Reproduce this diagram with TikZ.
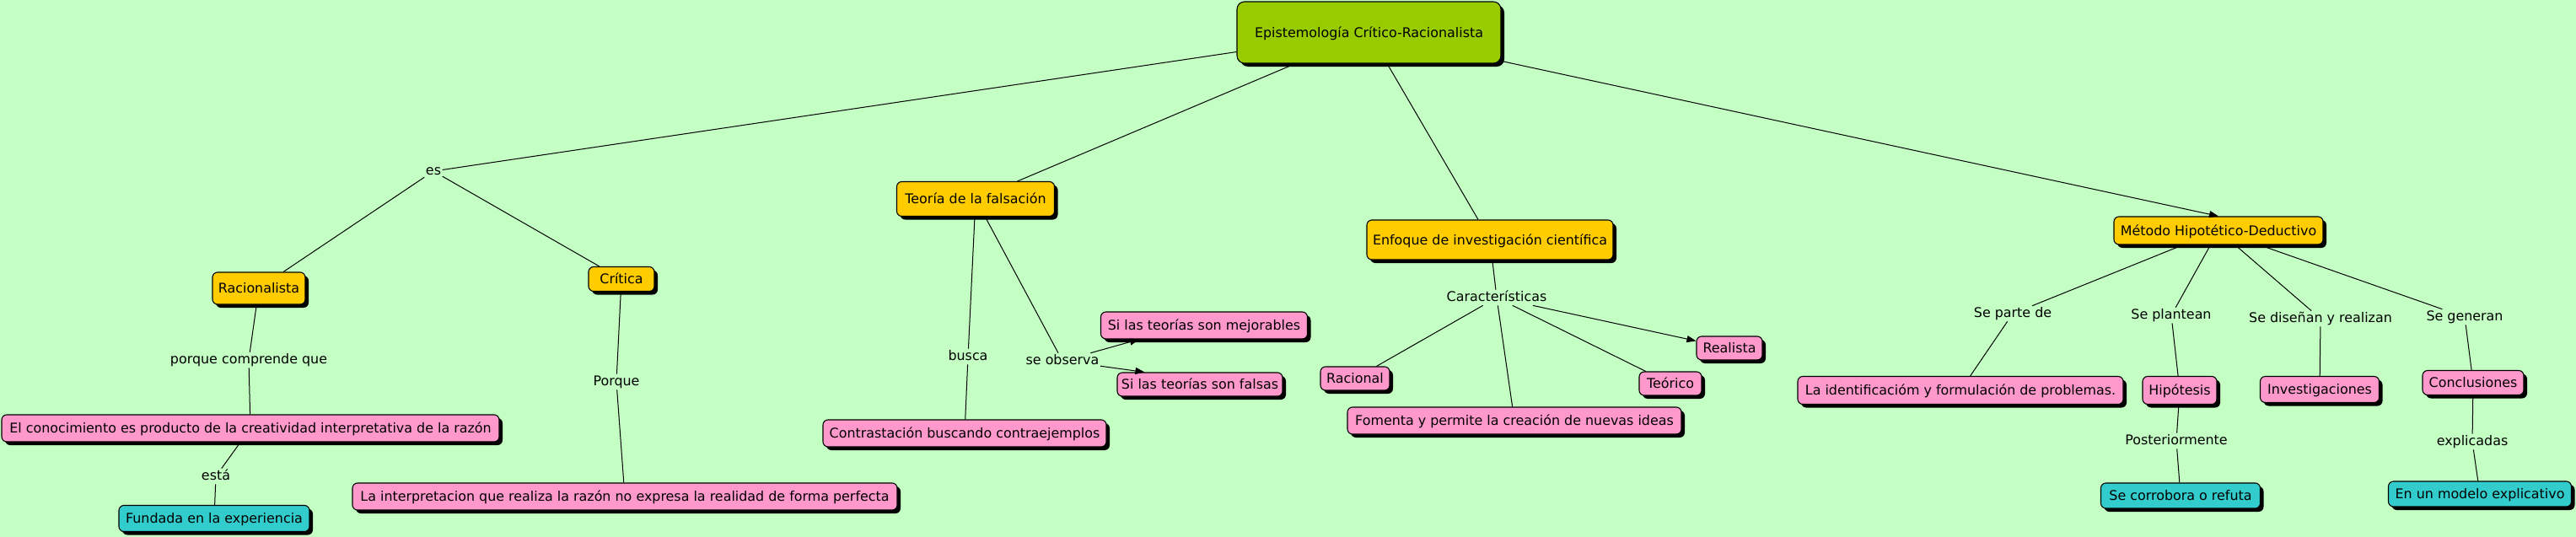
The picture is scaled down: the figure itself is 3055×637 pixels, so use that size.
\documentclass[tikz,border=0pt]{standalone}
\usepackage{fontspec}
\setmainfont{DejaVu Sans}
\usetikzlibrary{shadows,arrows.meta}
\definecolor{bg}{RGB}{196,255,196}
\definecolor{croot}{HTML}{99CC00}
\definecolor{cyel}{HTML}{FFCC00}
\definecolor{cpink}{HTML}{FF99CC}
\definecolor{cteal}{HTML}{33CCCC}
\tikzset{
  concept/.style={draw=black, line width=1.1pt, rounded corners=6pt, inner sep=0pt,
    text height=11.6pt, text depth=0pt, text=black,
    font=\fontsize{15.9}{19}\selectfont,
    drop shadow={shadow xshift=4pt, shadow yshift=-4pt, fill=black, opacity=1}},
  rootc/.style={concept, fill=croot, rounded corners=9pt},
  yel/.style={concept, fill=cyel},
  pink/.style={concept, fill=cpink},
  teal/.style={concept, fill=cteal},
  sz/.style 2 args={minimum width=#1pt, minimum height=#2pt},
  lbl/.style={inner sep=1.5pt, text height=11.6pt, text depth=3.7pt, anchor=base,
    text=black, font=\fontsize{15.9}{19}\selectfont},
  conn/.style={draw=black, line width=1pt},
  arr/.style={conn, -{Triangle[length=11pt,width=8pt]}}
}
\begin{document}
\begin{tikzpicture}[x=1pt,y=-1pt]
\useasboundingbox (0,0) rectangle (3055,637);
\fill[bg] (0,0) rectangle (3055,637);

% concepts
\node[rootc, sz={313}{73}] (root) at (1623.5,38.5) {Epistemología Crítico-Racionalista};
\node[yel, sz={110}{38}] (rac) at (307,342) {Racionalista};
\node[yel, sz={78}{29}] (cri) at (737,331) {Crítica};
\node[pink, sz={590}{32}] (con) at (297,508) {El conocimiento es producto de la creatividad interpretativa de la razón};
\node[teal, sz={226}{31}] (fun) at (254,615) {Fundada en la experiencia};
\node[pink, sz={646}{32}] (int) at (741,589) {La interpretacion que realiza la razón no expresa la realidad de forma perfecta};
\node[yel, sz={187}{41}] (teo) at (1157,236) {Teoría de la falsación};
\node[pink, sz={336}{32}] (contr) at (1144,514) {Contrastación buscando contraejemplos};
\node[pink, sz={245}{32}] (mej) at (1428,386) {Si las teorías son mejorables};
\node[pink, sz={196}{28}] (fal) at (1423,456) {Si las teorías son falsas};
\node[yel, sz={292}{47}] (enf) at (1767,284.5) {Enfoque de investigación científica};
\node[pink, sz={82}{28}] (racl) at (1607,449) {Racional};
\node[pink, sz={396}{32}] (fom) at (1796,499) {Fomenta y permite la creación de nuevas ideas};
\node[pink, sz={74}{28}] (teor) at (1981,455) {Teórico};
\node[pink, sz={78}{28}] (real) at (2051,413) {Realista};
\node[yel, sz={248}{33}] (met) at (2631,273.5) {Método Hipotético-Deductivo};
\node[pink, sz={386}{33}] (ide) at (2325,463) {La identificacióm y formulación de problemas.};
\node[pink, sz={88}{33}] (hip) at (2585,463) {Hipótesis};
\node[pink, sz={141}{31}] (inv) at (2751,462) {Investigaciones};
\node[pink, sz={120}{29}] (concl) at (2933,454) {Conclusiones};
\node[teal, sz={189}{30}] (cor) at (2586,588) {Se corrobora o refuta};
\node[teal, sz={217}{30}] (mod) at (2941,586) {En un modelo explicativo};

% linking phrases
\node[lbl] (es) at (514,207) {es};
\node[lbl] (pcq) at (295,431) {porque comprende que};
\node[lbl] (esta) at (256,569) {está};
\node[lbl] (porq) at (731,457) {Porque};
\node[lbl] (busca) at (1148,427) {busca};
\node[lbl] (seobs) at (1260,432) {se observa};
\node[lbl] (car) at (1775,357) {Características};
\node[lbl] (sparte) at (2387,376) {Se parte de};
\node[lbl] (splan) at (2575,378) {Se plantean};
\node[lbl] (sdis) at (2752,382) {Se diseñan y realizan};
\node[lbl] (sgen) at (2923,380) {Se generan};
\node[lbl] (post) at (2581,527) {Posteriormente};
\node[lbl] (expl) at (2932,528) {explicadas};

% connectors
\draw[conn] (root) -- (es);
\draw[conn] (es) -- (rac);
\draw[conn] (es) -- (cri);
\draw[conn] (rac) -- (pcq);
\draw[conn] (pcq) -- (con);
\draw[conn] (con) -- (esta);
\draw[conn] (esta) -- (fun);
\draw[conn] (cri) -- (porq);
\draw[conn] (porq) -- (int);
\draw[conn] (root) -- (teo);
\draw[conn] (teo) -- (busca);
\draw[conn] (busca) -- (contr);
\draw[conn] (teo) -- (seobs);
\draw[arr] (seobs) -- ([xshift=46pt]mej.south west);
\draw[arr] (seobs) -- ([xshift=33pt]fal.north west);
\draw[conn] (root) -- (enf);
\draw[conn] (enf) -- (car);
\draw[conn] (car) -- (racl);
\draw[conn] (car) -- (fom);
\draw[conn] (car) -- (teor);
\draw[arr] (car) -- (real);
\draw[arr] (root) -- (met.north);
\draw[conn] (met) -- (sparte);
\draw[conn] (sparte) -- (ide);
\draw[conn] (met) -- (splan);
\draw[conn] (splan) -- (hip);
\draw[conn] (hip) -- (post);
\draw[conn] (post) -- (cor);
\draw[conn] (met) -- (sdis);
\draw[conn] (sdis) -- (inv);
\draw[conn] (met) -- (sgen);
\draw[conn] (sgen) -- (concl);
\draw[conn] (concl) -- (expl);
\draw[conn] (expl) -- (mod);
\end{tikzpicture}
\end{document}
